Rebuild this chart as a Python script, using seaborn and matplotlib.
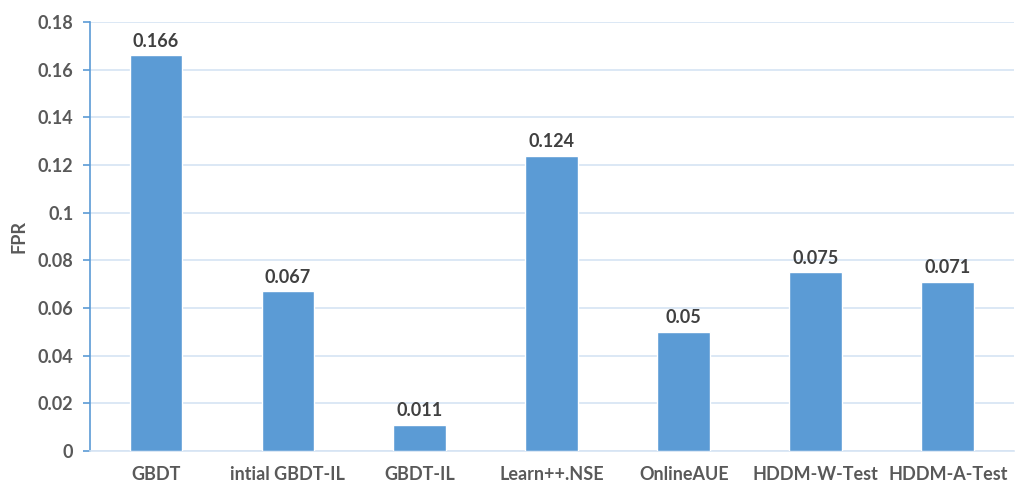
import matplotlib
matplotlib.use("Agg")
import matplotlib.pyplot as plt
import seaborn as sns
import pandas as pd

methods = ["GBDT", "intial GBDT-IL", "GBDT-IL", "Learn++.NSE",
           "OnlineAUE", "HDDM-W-Test", "HDDM-A-Test"]
fpr = [0.166, 0.067, 0.011, 0.124, 0.05, 0.075, 0.071]
fpr_labels = ["0.166", "0.067", "0.011", "0.124", "0.05", "0.075", "0.071"]
y_ticks = [0, 0.02, 0.04, 0.06, 0.08, 0.1, 0.12, 0.14, 0.16, 0.18]
y_tick_labels = ["0", "0.02", "0.04", "0.06", "0.08", "0.1", "0.12", "0.14", "0.16", "0.18"]

sns.set_theme(style="white")
plt.rcParams["font.family"] = ["Lato", "DejaVu Sans"]

df = pd.DataFrame({"method": methods, "fpr": fpr})

fig = plt.figure(figsize=(10.22, 4.84), dpi=100)
ax = fig.add_axes([0.088, 0.068, 0.904, 0.8865])

bar_color = "#5B9BD5"
grid_color = "#D6E4F3"
text_gray = "#595959"

sns.barplot(data=df, x="method", y="fpr", color=bar_color, width=0.4,
            saturation=1, ax=ax, zorder=3)

ax.set_ylim(0, 0.18)
ax.set_xlim(-0.5, len(methods) - 0.5)
ax.set_yticks(y_ticks)
ax.set_yticklabels(y_tick_labels)
ax.yaxis.grid(True, color=grid_color, linewidth=1.2, zorder=0)
ax.set_axisbelow(True)

for side in ["top", "right"]:
    ax.spines[side].set_visible(False)
ax.spines["left"].set_color(bar_color)
ax.spines["left"].set_linewidth(1.2)
ax.spines["bottom"].set_color(grid_color)
ax.spines["bottom"].set_linewidth(1.2)

ax.tick_params(axis="y", which="both", left=True, length=5, width=1.2,
               color=bar_color, labelsize=13, labelcolor=text_gray, pad=7)
ax.tick_params(axis="x", bottom=False, length=0, labelsize=13,
               labelcolor=text_gray, pad=11)
for lbl in ax.get_xticklabels() + ax.get_yticklabels():
    lbl.set_fontweight("bold")

ax.set_xlabel("")
ax.set_ylabel("FPR", fontsize=13, fontweight="bold", color=text_gray, labelpad=7)

for container in ax.containers:
    ax.bar_label(container, labels=fpr_labels, padding=4, fontsize=13,
                 fontweight="bold", color="#404040")

fig.savefig("out.png", dpi=100)
